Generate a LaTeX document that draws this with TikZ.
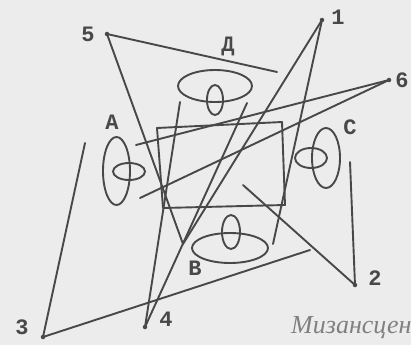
\documentclass[tikz,border=0pt]{standalone}
\usepackage{fontspec}
\setmainfont{Liberation Serif}
\newfontfamily\labfont{Liberation Mono}
\usetikzlibrary{shapes.geometric}
\definecolor{ink}{RGB}{72,72,72}
\definecolor{paper}{RGB}{236,236,236}
\definecolor{captc}{RGB}{128,128,128}
\begin{document}
\begin{tikzpicture}[x=1pt,y=-1pt,
  stroke/.style={draw=ink, line width=1.9pt, line cap=round, line join=round},
  actor/.style={ellipse, draw=ink, line width=1.9pt, inner sep=0pt},
  lab/.style={text=ink, font=\labfont\bfseries\fontsize{22}{22}\selectfont, inner sep=0pt},
  dot/.style={circle, fill=ink, inner sep=0pt, minimum size=4.5pt}]
\fill[paper] (0,0) rectangle (411,345);
\useasboundingbox (0,0) rectangle (411,345);
% numbered points
\node[dot] (p1) at (322,20) {};
\node[dot] (p2) at (355,285) {};
\node[dot] (p3) at (43,337) {};
\node[dot] (p4) at (145,327) {};
\node[dot] (p5) at (107,34) {};
\node[dot] (p6) at (389,80) {};
\node[lab] (l1) at (338,17) {1};
\node[lab] (l2) at (375,278) {2};
\node[lab] (l3) at (22,327) {3};
\node[lab] (l4) at (166,319) {4};
\node[lab] (l5) at (88,34) {5};
\node[lab] (l6) at (402,80) {6};
% letter labels
\node[lab] (la) at (112,122) {А};
\node[lab] (ld) at (228,46) {Д};
\node[lab] (lc) at (350,127) {С};
\node[lab] (lb) at (195,268) {В};
% actors
\node[actor, minimum width=74pt, minimum height=32pt] (dBig) at (215,86) {};
\node[actor, minimum width=16pt, minimum height=30pt] (dSmall) at (215,100) {};
\node[actor, minimum width=27pt, minimum height=68pt] (aBig) at (116.5,171) {};
\node[actor, minimum width=32pt, minimum height=17pt] (aSmall) at (129,171.5) {};
\node[actor, minimum width=28pt, minimum height=60pt] (cBig) at (326,158) {};
\node[actor, minimum width=32pt, minimum height=20pt] (cSmall) at (311,158) {};
\node[actor, minimum width=76pt, minimum height=30pt] (bBig) at (230,248) {};
\node[actor, minimum width=18pt, minimum height=34pt] (bSmall) at (231,232) {};
% rectangle
\coordinate (r1) at (157,128);
\coordinate (r2) at (282,122);
\coordinate (r3) at (285,205);
\coordinate (r4) at (163,208);
\draw[stroke] (r1) -- (r2) -- (r3) -- (r4) -- cycle;
% free ends
\coordinate (v) at (183,244);
\coordinate (e5) at (277,72);
\coordinate (e1) at (273,244);
\coordinate (e6a) at (136,145);
\coordinate (e6b) at (140,198);
\coordinate (e4a) at (180,102);
\coordinate (e4b) at (247,103);
\coordinate (e3a) at (85,143);
\coordinate (e3b) at (310,250);
\coordinate (e2a) at (243,185);
\coordinate (e2b) at (350,162);
% connectors
\draw[stroke] (p5.center) -- (e5);
\draw[stroke] (p5.center) -- (v);
\draw[stroke] (p1.center) -- (v);
\draw[stroke] (p1.center) -- (e1);
\draw[stroke] (p6.center) -- (e6a);
\draw[stroke] (p6.center) -- (e6b);
\draw[stroke] (p4.center) -- (e4a);
\draw[stroke] (p4.center) -- (e4b);
\draw[stroke] (p3.center) -- (e3a);
\draw[stroke] (p3.center) -- (e3b);
\draw[stroke] (p2.center) -- (e2a);
\draw[stroke] (p2.center) -- (e2b);
% caption
\node[anchor=base west, inner sep=0pt, text=captc, font=\itshape\fontsize{26}{26}\selectfont] (cap) at (291,333) {Мизансцен};
\end{tikzpicture}
\end{document}
